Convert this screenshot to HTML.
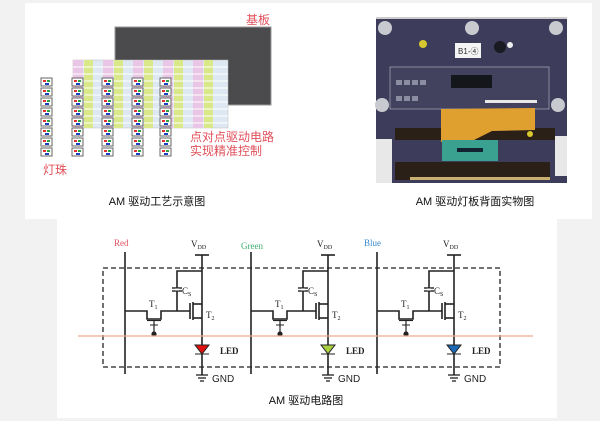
<!DOCTYPE html>
<html><head><meta charset="utf-8"><style>
html,body{margin:0;padding:0;background:#f2f2f2;width:600px;height:421px;overflow:hidden}
svg{display:block}
text{font-family:"Liberation Sans","Noto Sans CJK SC",sans-serif}
.s{font-family:"Liberation Serif","Noto Serif CJK SC",serif}
</style></head><body>
<svg width="600" height="421" viewBox="0 0 600 421" xmlns="http://www.w3.org/2000/svg">
<rect x="0" y="0" width="600" height="421" fill="#f2f2f2"/>
<rect x="25" y="3" width="567" height="216" fill="#fff"/>
<rect x="57" y="219" width="500" height="199" fill="#fff"/>

<rect x="115" y="27" width="156" height="78" fill="#4b4b4d" stroke="#999" stroke-width="1"/>
<text x="246" y="24" font-size="12" fill="#e0505a">基板</text>
<g>
<rect x="73" y="60" width="155" height="68" fill="#dde8f2" stroke="#bbb" stroke-width="0.5"/>
<rect x="73" y="60" width="10" height="68" fill="#e9c6e6"/>
<rect x="84" y="60" width="9" height="68" fill="#dbe88a"/>
<rect x="103" y="60" width="10" height="68" fill="#e9c6e6"/>
<rect x="114" y="60" width="9" height="68" fill="#dbe88a"/>
<rect x="133" y="60" width="10" height="68" fill="#e9c6e6"/>
<rect x="144" y="60" width="9" height="68" fill="#dbe88a"/>
<rect x="163" y="60" width="10" height="68" fill="#e9c6e6"/>
<rect x="174" y="60" width="9" height="68" fill="#dbe88a"/>
<rect x="193" y="60" width="10" height="68" fill="#e9c6e6"/>
<rect x="204" y="60" width="9" height="68" fill="#dbe88a"/>
<g stroke="#fff" stroke-width="1">
<line x1="73" y1="67" x2="228" y2="67"/><line x1="73" y1="74" x2="228" y2="74"/><line x1="73" y1="81" x2="228" y2="81"/><line x1="73" y1="88" x2="228" y2="88"/><line x1="73" y1="95" x2="228" y2="95"/><line x1="73" y1="102" x2="228" y2="102"/><line x1="73" y1="109" x2="228" y2="109"/><line x1="73" y1="116" x2="228" y2="116"/><line x1="73" y1="123" x2="228" y2="123"/>
</g>
</g>
<defs>
<g id="led">
<rect x="0" y="0" width="11" height="8" fill="#fff" stroke="#666" stroke-width="1"/>
<rect x="2" y="2" width="3" height="2" fill="#e03030"/>
<rect x="6" y="2" width="3" height="2" fill="#30a040"/>
<rect x="4" y="5" width="4" height="2" fill="#2040c0"/>
</g>
<g id="ledcol">
<use href="#led" y="0"/><use href="#led" y="10"/><use href="#led" y="20"/><use href="#led" y="30"/><use href="#led" y="40"/><use href="#led" y="50"/><use href="#led" y="60"/><use href="#led" y="70"/>
</g>
<g id="cell">
<line x1="0" y1="0" x2="0" y2="122" stroke="#222" stroke-width="1.6"/>
<line x1="77" y1="3" x2="77" y2="123" stroke="#222" stroke-width="1.6"/>
<line x1="70" y1="3" x2="84" y2="3" stroke="#222" stroke-width="1.6"/>
<polyline points="0,59 22,59 22,67 36,67 36,59 52,59 65,59" fill="none" stroke="#222" stroke-width="1.6"/>
<line x1="22" y1="68.5" x2="36" y2="68.5" stroke="#222" stroke-width="1.2"/>
<line x1="29" y1="69" x2="29" y2="81" stroke="#222" stroke-width="1.2"/>
<line x1="25" y1="73" x2="33" y2="73" stroke="#222" stroke-width="1"/>
<circle cx="29" cy="82" r="2.6" fill="#222"/>
<polyline points="52,59 52,19 77,19" fill="none" stroke="#222" stroke-width="1.6"/>
<line x1="47" y1="36" x2="57" y2="36" stroke="#222" stroke-width="1.4"/>
<line x1="47" y1="39" x2="57" y2="39" stroke="#222" stroke-width="1.4"/>
<rect x="50" y="36.5" width="4" height="2" fill="#fff"/>
<line x1="65" y1="51" x2="65" y2="67" stroke="#222" stroke-width="1.6"/>
<line x1="68" y1="50" x2="68" y2="68" stroke="#222" stroke-width="1.6"/>
<polyline points="68,52 77,52" fill="none" stroke="#222" stroke-width="1.6"/>
<polyline points="68,66 77,66" fill="none" stroke="#222" stroke-width="1.6"/>
<line x1="71" y1="123" x2="83" y2="123" stroke="#222" stroke-width="1.3"/>
<line x1="73" y1="126" x2="81" y2="126" stroke="#222" stroke-width="1.3"/>
<line x1="75" y1="129" x2="79" y2="129" stroke="#222" stroke-width="1.3"/>
<text x="66" y="-5" font-size="9" class="s" fill="#222">V<tspan font-size="6" dy="2">DD</tspan></text>
<text x="57" y="42" font-size="9" class="s" fill="#222">C<tspan font-size="6" dy="2">S</tspan></text>
<text x="24" y="55" font-size="9" class="s" fill="#222">T<tspan font-size="6" dy="2">1</tspan></text>
<text x="81" y="66" font-size="9" class="s" fill="#222">T<tspan font-size="6" dy="2">2</tspan></text>
<text x="95" y="102" font-size="9" class="s" font-weight="bold" fill="#222">LED</text>
<text x="87" y="130" font-size="10" fill="#222">GND</text>
</g>
</defs>
<use href="#ledcol" x="41" y="78"/>
<use href="#ledcol" x="72" y="78"/>
<use href="#ledcol" x="102" y="78"/>
<use href="#ledcol" x="132" y="78"/>
<use href="#ledcol" x="160" y="78"/>
<text x="190" y="141" font-size="12" fill="#e0505a">点对点驱动电路</text>
<text x="190" y="155" font-size="12" fill="#e0505a">实现精准控制</text>
<text x="43" y="174" font-size="12" fill="#e0505a">灯珠</text>
<text x="157" y="205" font-size="11" fill="#111" text-anchor="middle">AM 驱动工艺示意图</text>

<g>
<rect x="376" y="17" width="191" height="166" fill="#3d3c5a"/>
<rect x="376" y="17" width="191" height="2" fill="#ccc"/>
<g fill="#c8cad0"><circle cx="385" cy="28" r="7"/><circle cx="472" cy="28" r="7"/><circle cx="556" cy="28" r="7"/><circle cx="382" cy="105" r="7"/><circle cx="468" cy="104" r="7"/><circle cx="558" cy="105" r="7"/></g>
<circle cx="423" cy="44" r="4" fill="#d8c830"/>
<circle cx="510" cy="45" r="3" fill="#eee"/>
<circle cx="500" cy="47" r="6" fill="#1a1a22"/>
<rect x="455" y="43" width="26" height="15" fill="#f4f4f4"/>
<text x="458" y="54" font-size="8" fill="#333">B1-④</text>
<rect x="390" y="67" width="159" height="42" fill="#42425e" stroke="#aab" stroke-width="0.7"/>
<rect x="451" y="75" width="41" height="13" fill="#15151c"/>
<g fill="#8a8ea0"><rect x="396" y="80" width="6" height="5"/><rect x="404" y="80" width="6" height="5"/><rect x="412" y="80" width="6" height="5"/><rect x="420" y="80" width="6" height="5"/><rect x="396" y="96" width="6" height="5"/><rect x="404" y="96" width="6" height="5"/><rect x="412" y="96" width="6" height="5"/></g>
<rect x="485" y="100" width="52" height="3" fill="#e8e8e8"/>
<rect x="395" y="128" width="160" height="12" fill="#2a2018"/>
<polygon points="441,109 535,108 535,130 492,131 470,142 441,142" fill="#e0a030"/>
<rect x="442" y="140" width="56" height="21" fill="#3aa090"/>
<rect x="457" y="148" width="26" height="4" fill="#123"/>
<rect x="395" y="162" width="155" height="18" fill="#2a2018"/>
<rect x="410" y="177" width="140" height="3" fill="#c9b070"/>
<circle cx="530" cy="134" r="3" fill="#d8c830"/>
<rect x="376" y="139" width="16" height="44" fill="#e8e8e8"/>
<rect x="555" y="136" width="12" height="40" fill="#e8e8e8"/>
</g>
<text x="475" y="205" font-size="11" fill="#111" text-anchor="middle">AM 驱动灯板背面实物图</text>

<rect x="103" y="268" width="397" height="99" fill="none" stroke="#222" stroke-width="1.3" stroke-dasharray="5,3"/>
<use href="#cell" x="125" y="252"/>
<use href="#cell" x="251" y="252"/>
<use href="#cell" x="377" y="252"/>
<line x1="78" y1="336" x2="533" y2="336" stroke="#f0a890" stroke-width="1.2"/>
<g stroke="#222" stroke-width="1">
<polygon points="195,345 209,345 202,354" fill="#e01010"/>
<polygon points="321,345 335,345 328,354" fill="#a8d040"/>
<polygon points="447,345 461,345 454,354" fill="#1a6ab8"/>
<line x1="195" y1="354" x2="209" y2="354"/><line x1="321" y1="354" x2="335" y2="354"/><line x1="447" y1="354" x2="461" y2="354"/>
</g>
<text x="114" y="246" font-size="9" class="s" fill="#e05060">Red</text>
<text x="241" y="249" font-size="9" class="s" fill="#40b070">Green</text>
<text x="364" y="246" font-size="9" class="s" fill="#3a8ac8">Blue</text>
<text x="306" y="404" font-size="11" fill="#111" text-anchor="middle">AM 驱动电路图</text>
</svg>
</body></html>
